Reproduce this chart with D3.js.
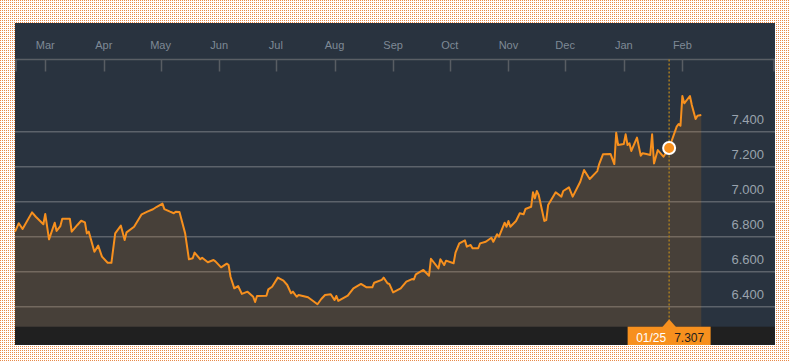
<!DOCTYPE html>
<html><head><meta charset="utf-8">
<script src="https://cdn.jsdelivr.net/npm/d3@7"></script>
<style>html,body{margin:0;padding:0;background:#fff;}svg{display:block;}</style>
</head><body>
<svg id="chart" width="790" height="361"></svg>
<script>
const dates = ["2022-02-13","2022-02-15","2022-02-17","2022-02-22","2022-02-24","2022-02-28","2022-03-01","2022-03-03","2022-03-06","2022-03-07","2022-03-09","2022-03-10","2022-03-14","2022-03-15","2022-03-18","2022-03-20","2022-03-22","2022-03-23","2022-03-24","2022-03-27","2022-03-29","2022-03-31","2022-04-03","2022-04-05","2022-04-07","2022-04-10","2022-04-12","2022-04-13","2022-04-17","2022-04-21","2022-04-24","2022-04-27","2022-04-29","2022-05-02","2022-05-03","2022-05-06","2022-05-08","2022-05-09","2022-05-11","2022-05-14","2022-05-16","2022-05-18","2022-05-19","2022-05-22","2022-05-23","2022-05-26","2022-05-29","2022-05-30","2022-06-02","2022-06-05","2022-06-06","2022-06-07","2022-06-09","2022-06-11","2022-06-13","2022-06-16","2022-06-19","2022-06-20","2022-06-21","2022-06-26","2022-06-27","2022-06-29","2022-07-02","2022-07-05","2022-07-07","2022-07-09","2022-07-10","2022-07-12","2022-07-13","2022-07-18","2022-07-23","2022-07-25","2022-07-27","2022-07-30","2022-08-01","2022-08-02","2022-08-03","2022-08-08","2022-08-11","2022-08-15","2022-08-18","2022-08-21","2022-08-22","2022-08-26","2022-08-27","2022-08-29","2022-08-30","2022-09-01","2022-09-05","2022-09-08","2022-09-11","2022-09-12","2022-09-13","2022-09-17","2022-09-20","2022-09-21","2022-09-25","2022-09-26","2022-09-28","2022-09-29","2022-10-03","2022-10-04","2022-10-06","2022-10-09","2022-10-10","2022-10-12","2022-10-13","2022-10-16","2022-10-17","2022-10-20","2022-10-23","2022-10-24","2022-10-26","2022-10-27","2022-10-30","2022-10-31","2022-11-01","2022-11-02","2022-11-05","2022-11-07","2022-11-09","2022-11-10","2022-11-13","2022-11-14","2022-11-15","2022-11-16","2022-11-17","2022-11-20","2022-11-21","2022-11-22","2022-11-26","2022-11-29","2022-11-30","2022-12-03","2022-12-05","2022-12-09","2022-12-11","2022-12-14","2022-12-18","2022-12-19","2022-12-21","2022-12-25","2022-12-27","2022-12-28","2022-12-29","2023-01-01","2023-01-02","2023-01-03","2023-01-04","2023-01-05","2023-01-08","2023-01-10","2023-01-11","2023-01-13","2023-01-15","2023-01-16","2023-01-17","2023-01-19","2023-01-22","2023-01-25","2023-01-29","2023-01-30","2023-01-31","2023-02-01","2023-02-02","2023-02-05","2023-02-06","2023-02-08","2023-02-09","2023-02-11"];
const values = [6.829,6.877,6.844,6.939,6.914,6.871,6.930,6.785,6.880,6.833,6.861,6.903,6.903,6.829,6.867,6.891,6.882,6.819,6.829,6.714,6.749,6.686,6.651,6.651,6.819,6.863,6.781,6.825,6.857,6.928,6.943,6.957,6.971,6.989,6.958,6.943,6.934,6.943,6.941,6.819,6.671,6.677,6.709,6.671,6.680,6.654,6.667,6.659,6.625,6.646,6.638,6.571,6.505,6.518,6.473,6.486,6.457,6.427,6.461,6.463,6.499,6.514,6.566,6.549,6.524,6.477,6.486,6.457,6.467,6.454,6.414,6.444,6.467,6.471,6.438,6.461,6.433,6.463,6.505,6.530,6.511,6.511,6.537,6.553,6.566,6.534,6.530,6.482,6.505,6.543,6.558,6.556,6.585,6.610,6.577,6.674,6.619,6.671,6.638,6.663,6.648,6.709,6.762,6.779,6.743,6.753,6.734,6.734,6.762,6.771,6.794,6.771,6.814,6.800,6.880,6.857,6.890,6.857,6.890,6.934,6.928,6.958,6.971,7.054,7.019,7.061,7.038,6.890,6.895,6.981,7.054,7.029,7.061,7.082,7.029,7.114,7.181,7.130,7.175,7.215,7.271,7.273,7.215,7.394,7.324,7.330,7.385,7.324,7.334,7.290,7.366,7.263,7.277,7.273,7.267,7.385,7.219,7.295,7.257,7.307,7.429,7.444,7.434,7.604,7.562,7.604,7.553,7.473,7.491,7.495];
const monthTicks = ["2022-03-01","2022-04-01","2022-05-01","2022-06-01","2022-07-01","2022-08-01","2022-09-01","2022-10-01","2022-11-01","2022-12-01","2023-01-01","2023-02-01"];
const yTicks = [6.4, 6.6, 6.8, 7.0, 7.2, 7.4];
const cursorDate = "2023-01-25";
const cursorValue = 7.307;

const parse = d3.timeParse("%Y-%m-%d");
const data = dates.map((d, i) => ({date: parse(d), value: values[i]}));
const svg = d3.select("#chart");

// page dotted background
const defs = svg.append("defs");
const pat = defs.append("pattern").attr("id", "dots").attr("width", 2).attr("height", 2).attr("patternUnits", "userSpaceOnUse");
pat.append("rect").attr("width", 2).attr("height", 2).attr("fill", "#ffffff");
pat.append("rect").attr("width", 1).attr("height", 1).attr("fill", "#e88a48");
svg.append("rect").attr("width", 790).attr("height", 361).attr("fill", "url(#dots)");

const L = 15, R = 775, T = 23, B = 345, plotBottom = 326.7;
svg.append("rect").attr("x", L).attr("y", T).attr("width", R - L).attr("height", B - T).attr("fill", "#29333f");
svg.append("rect").attr("x", L).attr("y", plotBottom).attr("width", R - L).attr("height", B - plotBottom).attr("fill", "#202020");

const x = d3.scaleTime().domain([parse("2022-02-13"), parse("2023-03-22")]).range([L, R]);
const y = d3.scaleLinear().domain([6.2857, 7.4]).range([plotBottom, 131.7]);

// gridlines
svg.append("g").selectAll("line").data(yTicks).join("line")
  .attr("x1", L).attr("x2", R).attr("y1", d => y(d)).attr("y2", d => y(d))
  .attr("stroke", "#5c636b").attr("stroke-width", 1.5);

// area
const area = d3.area().x(d => x(d.date)).y0(plotBottom).y1(d => y(d.value));
svg.append("path").datum(data).attr("d", area).attr("fill", "#f7901e").attr("fill-opacity", 0.15);

// y labels
svg.append("g").selectAll("text").data(yTicks).join("text")
  .attr("x", 764).attr("y", d => y(d) - 8).attr("text-anchor", "end")
  .attr("font-family", "Arial, 'Liberation Sans', sans-serif").attr("font-size", 13)
  .attr("fill", "#9aa3ad").text(d => d3.format(".3f")(d));

// top axis
const axisY = 59.5;
svg.append("line").attr("x1", L).attr("x2", R).attr("y1", axisY).attr("y2", axisY).attr("stroke", "#5a5f65").attr("stroke-width", 1.5);
const mt = monthTicks.map(parse);
svg.append("g").selectAll("line").data(mt).join("line")
  .attr("x1", d => Math.round(x(d)) + 0.5).attr("x2", d => Math.round(x(d)) + 0.5)
  .attr("y1", axisY).attr("y2", 71.5).attr("stroke", "#585d63").attr("stroke-width", 1.5);
[L + 1, R - 1].forEach(px => svg.append("line").attr("x1", px).attr("x2", px).attr("y1", axisY).attr("y2", 71.5).attr("stroke", "#585d63").attr("stroke-width", 1.5));
svg.append("g").selectAll("text").data(mt).join("text")
  .attr("x", d => x(d)).attr("y", 49).attr("text-anchor", "middle")
  .attr("font-family", "Arial, 'Liberation Sans', sans-serif").attr("font-size", 11)
  .attr("fill", "#7f8a96").text(d => d3.timeFormat("%b")(d));

// line
const line = d3.line().x(d => x(d.date)).y(d => y(d.value));
svg.append("path").datum(data).attr("d", line).attr("fill", "none")
  .attr("stroke", "#f7901e").attr("stroke-width", 2).attr("stroke-linejoin", "round");

// cursor
const cx = x(parse(cursorDate));
svg.append("line").attr("x1", cx).attr("x2", cx).attr("y1", axisY).attr("y2", 320)
  .attr("stroke", "#a67b22").attr("stroke-width", 1.5).attr("stroke-dasharray", "2,2");
svg.append("circle").attr("cx", cx).attr("cy", y(cursorValue)).attr("r", 6)
  .attr("fill", "#f7901e").attr("stroke", "#ffffff").attr("stroke-width", 2);

// label box
svg.append("rect").attr("x", cx - 41.5).attr("y", plotBottom).attr("width", 83).attr("height", B - plotBottom).attr("fill", "#f7901e");
svg.append("path").attr("d", `M${cx - 7},${plotBottom + 0.5} L${cx},${plotBottom - 7.5} L${cx + 7},${plotBottom + 0.5} Z`).attr("fill", "#f7901e");
svg.append("text").attr("x", cx - 33).attr("y", 341.5)
  .attr("font-family", "Arial, 'Liberation Sans', sans-serif").attr("font-size", 12)
  .attr("fill", "#ffffff").text(d3.timeFormat("%m/%d")(parse(cursorDate)));
svg.append("text").attr("x", cx + 5).attr("y", 341.5)
  .attr("font-family", "Arial, 'Liberation Sans', sans-serif").attr("font-size", 12)
  .attr("fill", "#1e1e1e").text(d3.format(".3f")(cursorValue));
</script>
</body></html>
